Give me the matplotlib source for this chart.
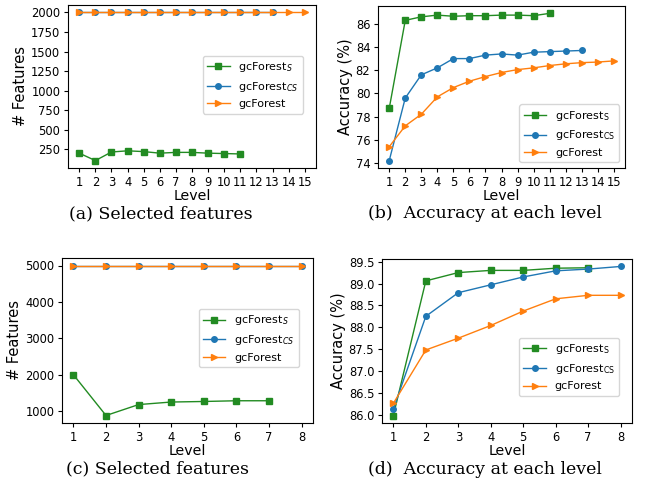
import matplotlib
matplotlib.use('Agg')
import matplotlib.pyplot as plt

# (a) selected features, dataset 1
levels_a = list(range(1, 16))
feat_s_a = [200, 105, 215, 230, 220, 200, 210, 210, 200, 195, 190]
feat_cs_a = [2000] * 13
feat_gc_a = [2000] * 15

# (b) accuracy, dataset 1
acc_s_b = [78.7, 86.3, 86.6, 86.75, 86.65, 86.7, 86.7, 86.75, 86.75, 86.7, 86.9]
acc_cs_b = [74.2, 79.6, 81.6, 82.2, 83.0, 83.0, 83.3, 83.4, 83.3, 83.55, 83.6, 83.65, 83.7]
acc_gc_b = [75.4, 77.2, 78.2, 79.7, 80.5, 81.05, 81.45, 81.8, 82.05, 82.2, 82.4,
            82.55, 82.65, 82.7, 82.8]

# (c) selected features, dataset 2
levels_c = list(range(1, 9))
feat_s_c = [2000, 880, 1180, 1250, 1265, 1285, 1285]
feat_cs_c = [5000] * 8
feat_gc_c = [5000] * 8

# (d) accuracy, dataset 2
acc_s_d = [85.98, 89.06, 89.25, 89.3, 89.3, 89.35, 89.36]
acc_cs_d = [86.13, 88.25, 88.79, 88.97, 89.15, 89.29, 89.33, 89.39]
acc_gc_d = [86.26, 87.48, 87.75, 88.04, 88.37, 88.65, 88.73, 88.73]

captions = ['(a) Selected features', '(b)  Accuracy at each level',
            '(c) Selected features', '(d)  Accuracy at each level']

W, H = 646, 482
GREEN = 'forestgreen'
BLUE = '#1f77b4'
ORANGE = '#ff7f0e'


def px_rect(left, top, right, bottom):
    return [left / W, 1 - bottom / H, (right - left) / W, (bottom - top) / H]


def draw(ax, levels, s, cs, gc, ylabel, italic_sub):
    if italic_sub:
        lab_s, lab_cs = r'gcForest$_{S}$', r'gcForest$_{CS}$'
    else:
        lab_s, lab_cs = r'gcForest$_\mathrm{S}$', r'gcForest$_\mathrm{CS}$'
    ax.plot(levels[:len(s)], s, marker='s', color=GREEN, lw=1, ms=4, label=lab_s)
    ax.plot(levels[:len(cs)], cs, marker='o', color=BLUE, lw=1, ms=4, label=lab_cs)
    ax.plot(levels[:len(gc)], gc, marker='>', color=ORANGE, lw=1, ms=4, label='gcForest')
    ax.set_xticks(levels)
    ax.tick_params(labelsize=8.3, length=3, width=0.8, pad=2.5)
    ax.set_xlabel('Level', fontsize=10.2, labelpad=0)
    ax.set_ylabel(ylabel, fontsize=10.5, labelpad=2)
    for sp in ax.spines.values():
        sp.set_linewidth(0.8)


fig = plt.figure(figsize=(W / 100, H / 100), dpi=100)

ax_a = fig.add_axes(px_rect(68, 5, 316, 168))
draw(ax_a, levels_a, feat_s_a, feat_cs_a, feat_gc_a, '# Features', True)
ax_a.set_yticks([250, 500, 750, 1000, 1250, 1500, 1750, 2000])
ax_a.legend(loc='center right', bbox_to_anchor=(0.948, 0.512), borderaxespad=0,
            fontsize=8)

ax_b = fig.add_axes(px_rect(378, 6, 625, 168))
draw(ax_b, levels_a, acc_s_b, acc_cs_b, acc_gc_b, 'Accuracy (%)', False)
ax_b.set_yticks([74, 76, 78, 80, 82, 84, 86])
ax_b.legend(loc='lower right', fontsize=8)

ax_c = fig.add_axes(px_rect(62, 258, 313, 423))
draw(ax_c, levels_c, feat_s_c, feat_cs_c, feat_gc_c, '# Features', True)
ax_c.set_yticks([1000, 2000, 3000, 4000, 5000])
ax_c.legend(loc='center right', bbox_to_anchor=(0.944, 0.515), borderaxespad=0,
            fontsize=8)

ax_d = fig.add_axes(px_rect(382, 259, 632, 423))
draw(ax_d, levels_c, acc_s_d, acc_cs_d, acc_gc_d, 'Accuracy (%)', False)
ax_d.set_yticks([86.0, 86.5, 87.0, 87.5, 88.0, 88.5, 89.0, 89.5])
ax_d.legend(loc='lower right', bbox_to_anchor=(0.948, 0.165), borderaxespad=0,
            fontsize=8)

cap_pos = [(161, 214), (485, 214), (158, 469), (485, 469)]
for txt, (cx, cy) in zip(captions, cap_pos):
    fig.text(cx / W, 1 - cy / H, txt, ha='center', va='center',
             family='DejaVu Serif', fontsize=12.5)

fig.savefig('out.png', dpi=100)
